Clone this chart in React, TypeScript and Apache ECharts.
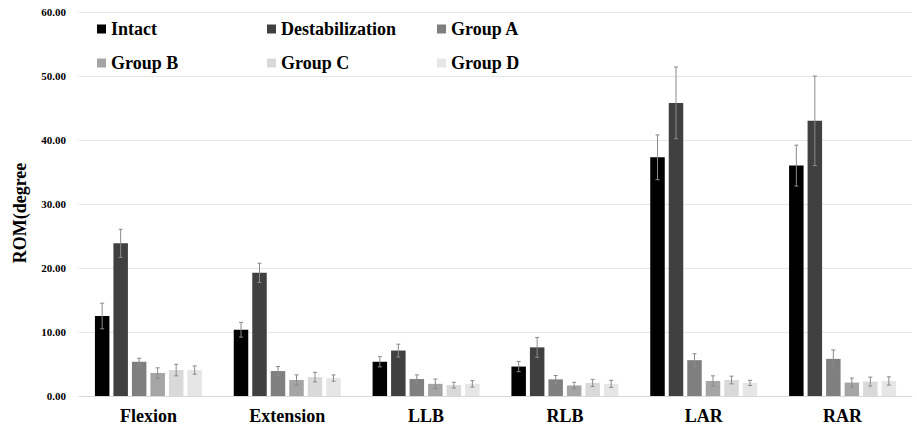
import React, { useEffect, useRef } from "react";
import * as echarts from "echarts";

const categories = ["Flexion", "Extension", "LLB", "RLB", "LAR", "RAR"];
const seriesNames = ["Intact", "Destabilization", "Group A", "Group B", "Group C", "Group D"];
const colors = ["#000000", "#404040", "#7f7f7f", "#a5a5a5", "#d9d9d9", "#e6e6e6"];

const intact = [12.5, 10.35, 5.35, 4.6, 37.3, 36.0];
const destabilization = [23.85, 19.25, 7.1, 7.6, 45.8, 43.0];
const groupA = [5.35, 3.9, 2.65, 2.6, 5.6, 5.8];
const groupB = [3.6, 2.5, 1.9, 1.65, 2.35, 2.1];
const groupC = [4.05, 2.95, 1.7, 2.05, 2.5, 2.25];
const groupD = [4.05, 2.8, 1.9, 1.9, 2.05, 2.35];

const intactErr = [2.0, 1.15, 0.8, 0.8, 3.5, 3.2];
const destabilizationErr = [2.2, 1.5, 1.0, 1.55, 5.6, 7.0];
const groupAErr = [0.55, 0.7, 0.65, 0.6, 1.0, 1.4];
const groupBErr = [0.8, 0.8, 0.75, 0.5, 0.8, 0.7];
const groupCErr = [0.9, 0.75, 0.45, 0.55, 0.6, 0.7];
const groupDErr = [0.65, 0.5, 0.5, 0.55, 0.4, 0.65];

const yTicks = [0, 10, 20, 30, 40, 50, 60];

const values = [intact, destabilization, groupA, groupB, groupC, groupD];
const errors = [intactErr, destabilizationErr, groupAErr, groupBErr, groupCErr, groupDErr];

const BAR_W = 14.5;
const BAR_GAP_PX = 4;
const FONT = "Liberation Serif";

export default function App() {
  const ref = useRef<HTMLDivElement>(null);
  useEffect(() => {
    document.body.style.margin = "0";
    if (!ref.current) return;
    const chart = echarts.init(ref.current, undefined, { renderer: "svg" });
    const pitch = BAR_W + BAR_GAP_PX;

    const barSeries = seriesNames.map((name, i) => ({
      name,
      type: "bar",
      data: values[i],
      barWidth: BAR_W,
      barGap: (BAR_GAP_PX / BAR_W) * 100 + "%",
      itemStyle: { color: colors[i] },
      z: 2,
    }));

    const errSeries = seriesNames.map((name, i) => ({
      name: name + " err",
      type: "custom",
      z: 5,
      data: values[i].map((v, k) => [k, v, errors[i][k]]),
      encode: { x: 0, y: 1 },
      renderItem: (params: any, api: any) => {
        const cat = api.value(0);
        const v = api.value(1);
        const e = api.value(2);
        const p = api.coord([cat, v]);
        const x = p[0] + (i - 2.5) * pitch;
        const yTop = api.coord([cat, v + e])[1];
        const yBot = api.coord([cat, v - e])[1];
        const style = { stroke: "#8a8a8a", lineWidth: 1 };
        return {
          type: "group",
          children: [
            { type: "line", shape: { x1: x, y1: yTop, x2: x, y2: yBot }, style },
            { type: "line", shape: { x1: x - 2, y1: yTop, x2: x + 2, y2: yTop }, style },
            { type: "line", shape: { x1: x - 2, y1: yBot, x2: x + 2, y2: yBot }, style },
          ],
        };
      },
    }));

    const legendPos = [
      [97, 20], [267, 20], [437, 20],
      [97, 54], [267, 54], [437, 54],
    ];
    const legends = seriesNames.map((name, i) => ({
      data: [name],
      left: legendPos[i][0],
      top: legendPos[i][1],
      padding: 0,
      icon: "rect",
      itemWidth: 9,
      itemHeight: 9,
      itemStyle: { color: colors[i] },
      textStyle: { fontFamily: FONT, fontWeight: "bold", fontSize: 18, color: "#000" },
      selectedMode: false,
    }));

    chart.setOption({
      animation: false,
      backgroundColor: "#ffffff",
      grid: { left: 79, right: 5, top: 12, bottom: 32 },
      legend: legends,
      xAxis: {
        type: "category",
        data: categories,
        axisLine: { lineStyle: { color: "#d9d9d9", width: 1 } },
        axisTick: { show: false },
        axisLabel: {
          margin: 11,
          fontFamily: FONT,
          fontWeight: "bold",
          fontSize: 18,
          color: "#000",
        },
      },
      yAxis: {
        type: "value",
        min: yTicks[0],
        max: yTicks[yTicks.length - 1],
        interval: 10,
        axisLine: { show: false },
        axisTick: { show: false },
        splitLine: { lineStyle: { color: "#e6e6e6", width: 1 } },
        axisLabel: {
          margin: 13,
          fontFamily: FONT,
          fontWeight: "bold",
          fontSize: 11,
          color: "#000",
          formatter: (v: number) => v.toFixed(2),
        },
      },
      graphic: [
        {
          type: "text",
          x: 20,
          y: 213,
          rotation: Math.PI / 2,
          style: {
            text: "ROM(degree",
            fontFamily: FONT,
            fontWeight: "bold",
            fontSize: 18,
            fill: "#000",
            textAlign: "center",
            textVerticalAlign: "middle",
          },
        },
      ],
      series: [...barSeries, ...errSeries],
    });
    return () => chart.dispose();
  }, []);
  return <div ref={ref} style={{ width: 917, height: 428 }} />;
}
